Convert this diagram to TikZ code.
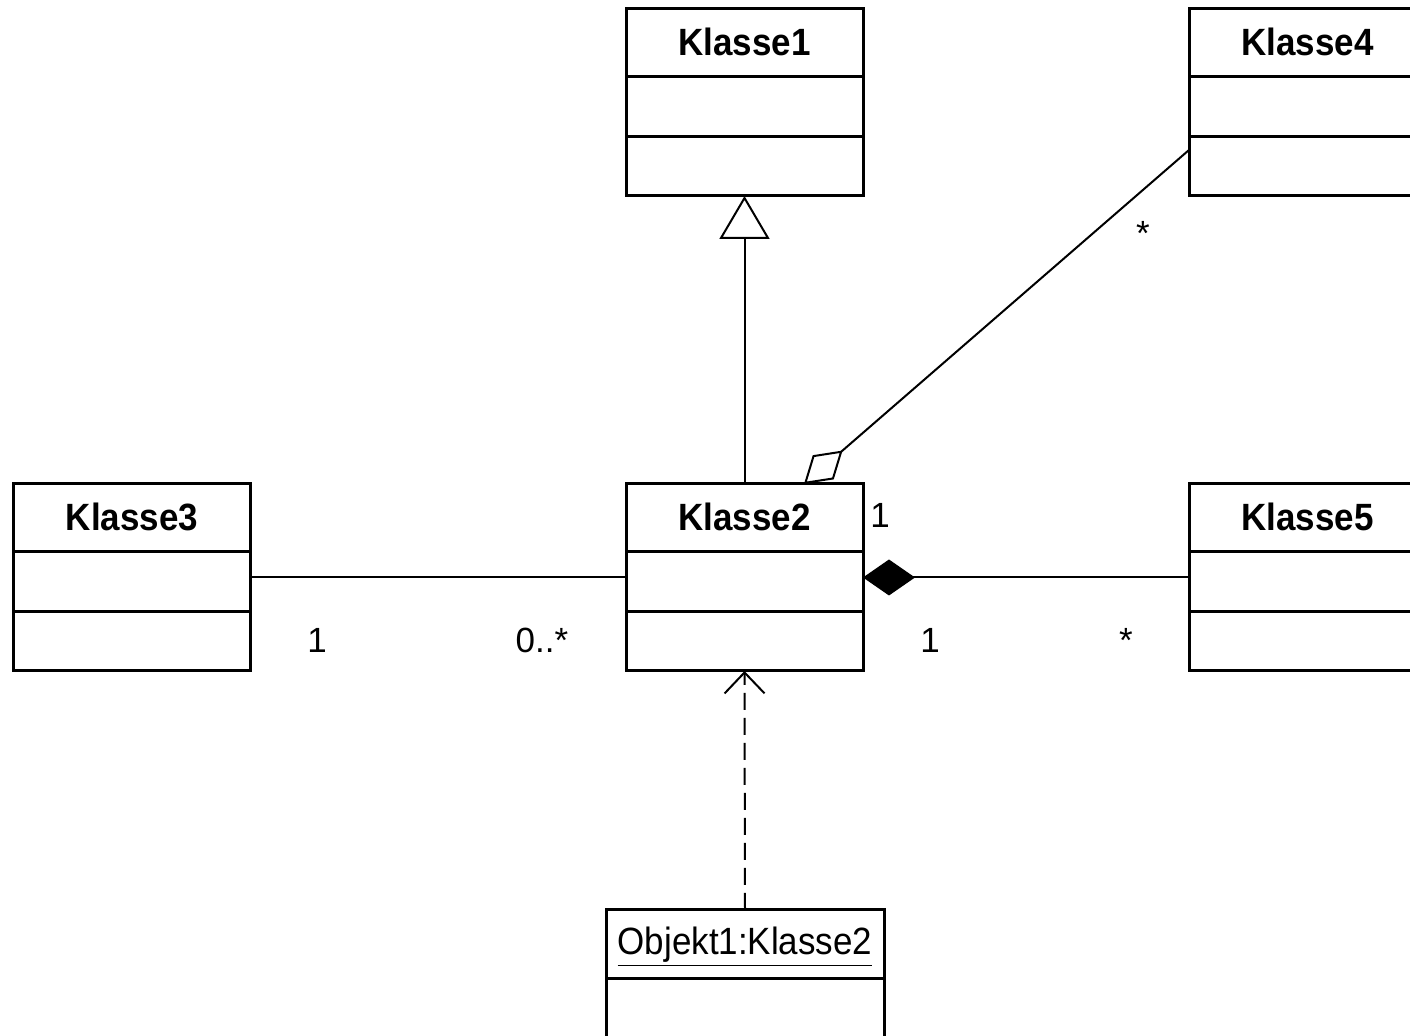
\documentclass[tikz,border=0pt]{standalone}
\usepackage{fontspec}
\setmainfont{Liberation Sans}
\newfontfamily\namefont[FakeStretch=0.92]{Liberation Sans}
\usetikzlibrary{arrows.meta}

\begin{document}
\begin{tikzpicture}[x=0.5pt,y=-0.5pt,
  classbox/.style={draw, line width=1.5pt, minimum width=118.5pt, minimum height=93.5pt,
    inner sep=0pt, outer sep=0pt},
  objbox/.style={draw, line width=1.5pt, minimum width=139pt, minimum height=80pt,
    inner sep=0pt, outer sep=0pt},
  cname/.style={font=\namefont\bfseries\fontsize{19pt}{21pt}\selectfont, anchor=base, inner sep=0pt},
  oname/.style={font=\namefont\fontsize{19pt}{21pt}\selectfont, anchor=base, inner sep=0pt},
  mult/.style={font=\fontsize{17.5pt}{20pt}\selectfont, anchor=base, inner sep=0pt},
  divider/.style={line width=1.5pt},
  conn/.style={line width=1pt},
  dep/.style={conn, dash pattern=on 8.5pt off 4pt},
]
\useasboundingbox (0,0) rectangle (1410,1036);
\clip (0,0) rectangle (1410,1036);

% class boxes
\node[classbox] (k1) at (744.5,102.5) {};
\node[classbox] (k2) at (744.5,577.5) {};
\node[classbox] (k3) at (132,577.5) {};
\node[classbox] (k4) at (1307.5,102.5) {};
\node[classbox] (k5) at (1307.5,577.5) {};
\node[objbox] (o1) at (745,990) {};

% compartment dividers
\foreach \c in {k1,k2,k3,k4,k5}{
  \draw[divider] ([yshift=-34pt]\c.north west) -- ([yshift=-34pt]\c.north east);
  \draw[divider] ([yshift=-63.75pt]\c.north west) -- ([yshift=-63.75pt]\c.north east);
}
\draw[divider] ([yshift=-34.5pt]o1.north west) -- ([yshift=-34.5pt]o1.north east);

% names
\node[cname] (k1n) at (744.5,56) {Klasse1};
\node[cname] (k2n) at (744.5,531) {Klasse2};
\node[cname] (k3n) at (132,531) {Klasse3};
\node[cname] (k4n) at (1307.5,56) {Klasse4};
\node[cname] (k5n) at (1307.5,531) {Klasse5};
\node[oname] (o1n) at (745,955) {\underline{Objekt1:Klasse2}};

% attachment points
\coordinate (aggA) at ([xshift=29.75pt]k2.north);
\coordinate (aggB) at ([yshift=-23.75pt]k4.west);

% generalization
\draw[conn, -{Triangle[open, length=21.5pt, width=25pt]}] (k2.north) -- (k1.south);
% aggregation
\draw[conn, {Diamond[open, length=25.5pt, width=16pt]}-] (aggA) -- (aggB);
% composition
\draw[conn, {Diamond[length=26pt, width=18pt]}-] (k2.east) -- (k5.west);
% association
\draw[conn] (k3.east) -- (k2.west);
% dependency
\draw[dep, -{Straight Barb[length=10.5pt, width=20pt]}] (o1.north) -- (k2.south);

% multiplicities
\node[mult] (m1) at (317,653) {1};
\node[mult] (m2) at (542,653) {0..*};
\node[mult] (m3) at (880,528) {1};
\node[mult] (m4) at (930,653) {1};
\node[mult] (m5) at (1126,653) {*};
\node[mult] (m6) at (1143,246) {*};
\end{tikzpicture}
\end{document}
